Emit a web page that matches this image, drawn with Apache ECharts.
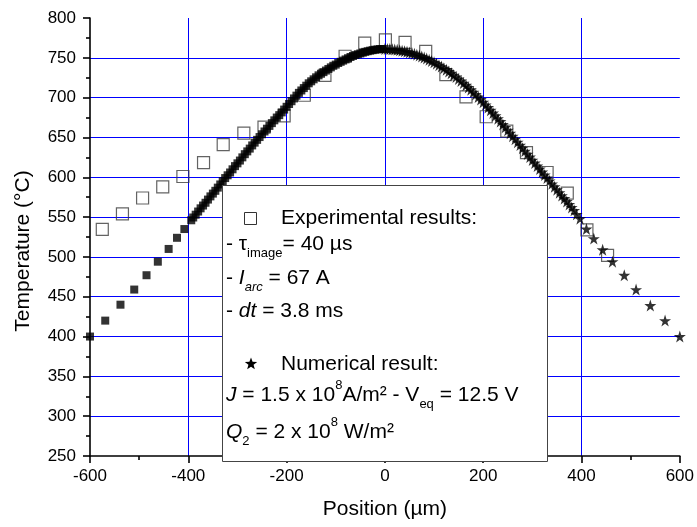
<!DOCTYPE html>
<html>
<head>
<meta charset="utf-8">
<script src="https://cdn.jsdelivr.net/npm/echarts@6/dist/echarts.min.js"></script>
<style>
html,body{margin:0;padding:0;background:#fff;}
#chart{width:697px;height:527px;}
</style>
</head>
<body>
<div id="chart"></div>
<script>
// ---- data ----
const xTicks = [-600, -400, -200, 0, 200, 400, 600];
const yTicks = [250, 300, 350, 400, 450, 500, 550, 600, 650, 700, 750, 800];

// Experimental results (open squares)
const expX = [-575, -534, -493, -452, -411, -369, -329, -287, -246, -205, -164, -122, -81, -41, 1, 41, 83, 124, 165, 206, 248, 288, 330, 371, 411, 453];
const expT = [534.5, 554, 574, 588, 601, 618.5, 641, 655.5, 663, 677, 703, 728, 752, 768.5, 772.5, 769.5, 758, 729, 701, 676, 658, 631, 606, 580, 534, 502];

// Numerical result, left half (filled squares)
const numLeftX = [-600, -569, -538, -510, -485, -462, -440, -423, -408, -394,
  -390, -385, -380, -375, -370, -365, -360, -355, -350, -345, -340, -335, -330, -325, -320, -315,
  -310, -305, -300, -295, -290, -285, -280, -275, -270, -265, -260, -255, -250, -245, -240, -235,
  -230, -225, -220, -215, -210, -205, -200, -195, -190, -185, -180, -175, -170, -165, -160, -155,
  -150, -145, -140, -135, -130, -125, -120, -115, -110, -105, -100, -95, -90, -85, -80, -75,
  -70, -65, -60, -55, -50, -45, -40, -35, -30, -25, -20, -15, -10, -5];
const numLeftT = [400, 420, 440, 459, 477, 494, 510, 524, 535, 546,
  549.5, 553, 557, 561, 564.5, 568, 572, 576, 579.5, 583, 587, 591, 595, 599, 602.5, 606,
  610, 614, 617.5, 621, 625, 629, 632.5, 636, 640, 643.5, 647, 650.5, 654, 657.5, 661, 664.5,
  668, 671.5, 675, 678, 681.5, 685, 688.5, 692, 695.5, 699, 702.5, 706, 709, 712, 715, 718,
  720.5, 723, 725.5, 728, 730, 732, 734, 736, 738, 740, 741.5, 743.5, 745, 746.5, 748, 749.5,
  751, 752.3, 753.5, 754.5, 755.5, 756.5, 757.5, 758.3, 759, 759.6, 760.2, 760.6, 761, 761];

// Numerical result, right half (stars)
const numRightX = [0, 5, 10, 15, 20, 25, 30, 35, 40, 45, 50, 55, 60, 65, 70, 75, 80, 85, 90, 95,
  100, 105, 110, 115, 120, 125, 130, 135, 140, 145, 150, 155, 160, 165, 170, 175, 180, 185, 190, 195,
  200, 205, 210, 215, 220, 225, 230, 235, 240, 245, 250, 255, 260, 265, 270, 275, 280, 285, 290, 295,
  300, 305, 310, 315, 320, 325, 330, 335, 340, 345, 350, 355, 360, 365, 370, 375, 380, 385, 390,
  397, 410, 425, 443, 463, 487, 511, 540, 570, 600];
const numRightT = [761, 761, 761, 760.7, 760.3, 760, 759.5, 759, 758.3, 757.6, 756.8, 756, 755, 754, 752.8, 751.6, 750.3, 749, 747.5, 746,
  744.3, 742.6, 740.8, 739, 737, 735, 732.8, 730.6, 728.3, 726, 723.5, 721, 718.3, 715.6, 712.8, 710, 707, 704, 700.8, 697.6,
  694.3, 691, 687.6, 684.2, 680.7, 677.2, 673.6, 670, 666.4, 662.7, 659, 655.3, 651.6, 647.9, 644.1, 640.4, 636.6, 632.9, 629.1, 625.4,
  621.6, 617.9, 614.1, 610.4, 606.6, 602.9, 599.2, 595.5, 591.8, 588.1, 584.4, 580.7, 577, 573.3, 569.6, 565.9, 562.2, 558.5, 553.5,
  548, 535, 523, 509, 494, 477, 459, 439, 420, 400];

// ---- chart ----
const FONT = '"Liberation Sans", Arial, sans-serif';
const STAR = 'path://M50,0L61.2,34.5L97.6,34.5L68.2,55.9L79.4,90.5L50,69.1L20.6,90.5L31.8,55.9L2.4,34.5L38.8,34.5Z';
const zip = (a, b) => a.map((v, i) => [v, b[i]]);

function starPoints(cx, cy, R, r) {
  const pts = [];
  for (let i = 0; i < 10; i++) {
    const ang = -Math.PI / 2 + i * Math.PI / 5;
    const rad = i % 2 === 0 ? R : r;
    pts.push([cx + rad * Math.cos(ang), cy + rad * Math.sin(ang)]);
  }
  return pts;
}

const LF = 21; // legend font size
const rich = {
  n: {fontSize: LF, fontFamily: FONT, color: '#000', lineHeight: 32, verticalAlign: 'middle'},
  i: {fontSize: LF, fontFamily: FONT, fontStyle: 'italic', color: '#000', lineHeight: 32, verticalAlign: 'middle'},
  s: {fontSize: 13, fontFamily: FONT, color: '#000', lineHeight: 13, verticalAlign: 'bottom'},
  si: {fontSize: 13, fontFamily: FONT, fontStyle: 'italic', color: '#000', lineHeight: 13, verticalAlign: 'bottom'},
  p: {fontSize: 13, fontFamily: FONT, color: '#000', lineHeight: 13, verticalAlign: 'top'}
};
function legText(x, cy, text) {
  return {type: 'text', x: x, y: cy, z: 102,
    style: {text: text, rich: rich, textVerticalAlign: 'middle', verticalAlign: 'middle', align: 'left'}};
}

function makeAxis(extra) {
  return Object.assign({
    type: 'value',
    axisLine: {show: true, onZero: false, lineStyle: {color: '#000', width: 1.6}},
    axisTick: {show: true, length: 7, lineStyle: {color: '#000', width: 1.6}},
    minorTick: {show: true, splitNumber: 2, length: 4, lineStyle: {color: '#000', width: 1.6}},
    splitLine: {show: true, showMinLine: false, showMaxLine: false,
      lineStyle: {color: '#0000ff', width: 1, opacity: 1}},
    nameLocation: 'middle'
  }, extra);
}

const option = {
  animation: false,
  backgroundColor: '#fff',
  grid: {left: 90, right: 17, top: 18, bottom: 71, containLabel: false},
  xAxis: makeAxis({
    min: xTicks[0], max: xTicks[xTicks.length - 1], interval: xTicks[1] - xTicks[0],
    name: 'Position (µm)', nameGap: 43,
    nameTextStyle: {fontFamily: FONT, fontSize: 21, color: '#000'},
    axisLabel: {color: '#000', fontSize: 17, fontFamily: FONT, margin: 12}
  }),
  yAxis: makeAxis({
    min: yTicks[0], max: yTicks[yTicks.length - 1], interval: yTicks[1] - yTicks[0],
    name: 'Temperature (°C)', nameGap: 56,
    nameTextStyle: {fontFamily: FONT, fontSize: 21, color: '#000', padding: [0, 28, 0, 0]},
    axisLabel: {color: '#000', fontSize: 17, fontFamily: FONT, margin: 14}
  }),
  series: [
    {type: 'scatter', name: 'Experimental', data: zip(expX, expT), symbol: 'rect', symbolSize: 12, z: 2,
      itemStyle: {color: 'rgba(0,0,0,0)', borderColor: '#3c3c3c', borderWidth: 1.2}},
    {type: 'scatter', name: 'NumLeft', data: zip(numLeftX, numLeftT), symbol: 'rect', symbolSize: 8, z: 3,
      itemStyle: {color: '#000'}},
    {type: 'scatter', name: 'NumRight', data: zip(numRightX, numRightT), symbol: STAR, symbolSize: 12, z: 3,
      itemStyle: {color: '#000'}}
  ],
  graphic: [
    {type: 'rect', z: 100, shape: {x: 222.5, y: 185.5, width: 325, height: 276},
      style: {fill: '#fff', stroke: '#444', lineWidth: 1}},
    {type: 'rect', z: 101, shape: {x: 244.5, y: 212.5, width: 12, height: 12},
      style: {fill: '#fff', stroke: '#333', lineWidth: 1}},
    {type: 'polygon', z: 101, shape: {points: starPoints(251, 364, 6.5, 2.7)}, style: {fill: '#000'}},
    legText(281, 218, '{n|Experimental results:}'),
    legText(226, 244, '{n|- τ}{s|image}{n|= 40 µs}'),
    legText(226, 278, '{n|- }{i|I}{si|arc}{n| = 67 A}'),
    legText(226, 311, '{n|- }{i|dt}{n| = 3.8 ms}'),
    legText(281, 364, '{n|Numerical result:}'),
    legText(226, 395, '{i|J}{n| = 1.5 x 10}{p|8}{n|A/m² - V}{s|eq}{n| = 12.5 V}'),
    legText(226, 432, '{i|Q}{s|2}{n| = 2 x 10}{p|8}{n| W/m²}')
  ]
};

const chart = echarts.init(document.getElementById('chart'), null, {renderer: 'canvas'});
chart.setOption(option);
</script>
</body>
</html>
